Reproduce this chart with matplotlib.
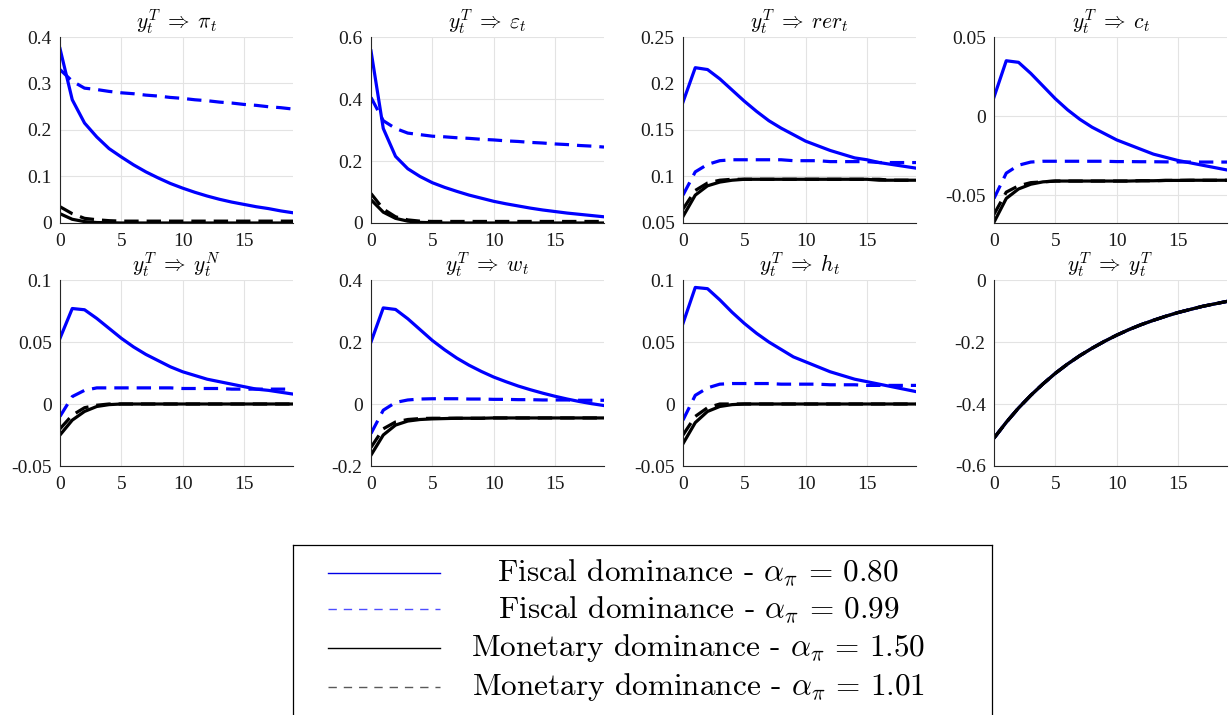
import matplotlib as mpl
import matplotlib.pyplot as plt
import numpy as np
from matplotlib.ticker import FuncFormatter

mpl.rcParams['font.family'] = ['Liberation Serif', 'DejaVu Serif']
mpl.rcParams['mathtext.fontset'] = 'cm'
mpl.rcParams['axes.unicode_minus'] = False

# horizon
t = np.arange(20)

titles = [r'$y_t^T\;\Rightarrow\;\pi_t$', r'$y_t^T\;\Rightarrow\;\varepsilon_t$',
          r'$y_t^T\;\Rightarrow\;rer_t$', r'$y_t^T\;\Rightarrow\;c_t$',
          r'$y_t^T\;\Rightarrow\;y_t^N$', r'$y_t^T\;\Rightarrow\;w_t$',
          r'$y_t^T\;\Rightarrow\;h_t$', r'$y_t^T\;\Rightarrow\;y_t^T$']

labels = [r'Fiscal dominance - $\alpha_\pi\,=\,0.80$',
          r'Fiscal dominance - $\alpha_\pi\,=\,0.99$',
          r'Monetary dominance - $\alpha_\pi\,=\,1.50$',
          r'Monetary dominance - $\alpha_\pi\,=\,1.01$']

# impulse responses: fiscal 0.80, fiscal 0.99, monetary 1.50, monetary 1.01
pi_fd080 = [0.375, 0.265, 0.215, 0.185, 0.16, 0.142, 0.125, 0.11, 0.097, 0.085,
            0.075, 0.066, 0.058, 0.051, 0.045, 0.04, 0.035, 0.031, 0.026, 0.022]
pi_fd099 = [0.33, 0.305, 0.29, 0.287, 0.283, 0.28, 0.278, 0.275, 0.273, 0.27,
            0.268, 0.265, 0.263, 0.26, 0.258, 0.255, 0.253, 0.25, 0.248, 0.245]
pi_md150 = [0.02, 0.008, 0.003, 0.001, 0.0005, 0, 0, 0, 0, 0,
            0, 0, 0, 0, 0, 0, 0, 0, 0, 0]
pi_md101 = [0.035, 0.02, 0.01, 0.007, 0.005, 0.004, 0.004, 0.004, 0.004, 0.004,
            0.004, 0.004, 0.004, 0.004, 0.004, 0.004, 0.004, 0.004, 0.004, 0.004]

eps_fd080 = [0.555, 0.305, 0.215, 0.175, 0.15, 0.13, 0.115, 0.102, 0.09, 0.08,
             0.07, 0.062, 0.055, 0.048, 0.042, 0.037, 0.032, 0.028, 0.024, 0.02]
eps_fd099 = [0.405, 0.33, 0.305, 0.29, 0.285, 0.28, 0.278, 0.275, 0.273, 0.27,
             0.268, 0.265, 0.263, 0.26, 0.258, 0.255, 0.253, 0.25, 0.248, 0.245]
eps_md150 = [0.075, 0.035, 0.015, 0.006, 0.002, 0.001, 0, 0, 0, 0,
             0, 0, 0, 0, 0, 0, 0, 0, 0, 0]
eps_md101 = [0.095, 0.045, 0.02, 0.01, 0.006, 0.005, 0.005, 0.005, 0.005, 0.005,
             0.005, 0.005, 0.005, 0.005, 0.005, 0.005, 0.005, 0.005, 0.005, 0.005]

rer_fd080 = [0.18, 0.217, 0.215, 0.205, 0.193, 0.181, 0.17, 0.16, 0.152, 0.145,
             0.138, 0.133, 0.128, 0.124, 0.12, 0.118, 0.115, 0.113, 0.111, 0.109]
rer_fd099 = [0.08, 0.105, 0.113, 0.117, 0.118, 0.118, 0.118, 0.118, 0.118, 0.117,
             0.117, 0.117, 0.116, 0.116, 0.116, 0.116, 0.115, 0.115, 0.115, 0.115]
rer_md150 = [0.057, 0.08, 0.09, 0.094, 0.096, 0.097, 0.097, 0.097, 0.097, 0.097,
             0.097, 0.097, 0.097, 0.097, 0.097, 0.097, 0.096, 0.096, 0.096, 0.096]
rer_md101 = [0.065, 0.085, 0.093, 0.096, 0.097, 0.097, 0.097, 0.097, 0.097, 0.097,
             0.097, 0.097, 0.097, 0.097, 0.097, 0.097, 0.097, 0.096, 0.096, 0.096]

c_fd080 = [0.012, 0.035, 0.034, 0.027, 0.019, 0.011, 0.004, -0.002, -0.007, -0.011,
           -0.015, -0.018, -0.021, -0.024, -0.026, -0.028, -0.0295, -0.031, -0.0325, -0.034]
c_fd099 = [-0.052, -0.036, -0.031, -0.029, -0.0285, -0.0285, -0.0285, -0.0285, -0.0285, -0.0285,
           -0.0287, -0.0287, -0.0288, -0.0288, -0.0289, -0.0289, -0.029, -0.029, -0.029, -0.029]
c_md150 = [-0.067, -0.052, -0.046, -0.043, -0.0415, -0.041, -0.041, -0.041, -0.041, -0.041,
           -0.041, -0.041, -0.0408, -0.0408, -0.0406, -0.0406, -0.0405, -0.0405, -0.0405, -0.0405]
c_md101 = [-0.062, -0.048, -0.044, -0.042, -0.0415, -0.041, -0.041, -0.041, -0.041, -0.041,
           -0.041, -0.041, -0.0408, -0.0408, -0.0406, -0.0406, -0.0405, -0.0405, -0.0405, -0.0405]

yn_fd080 = [0.053, 0.077, 0.076, 0.069, 0.061, 0.053, 0.046, 0.04, 0.035, 0.03,
            0.026, 0.023, 0.02, 0.018, 0.016, 0.014, 0.012, 0.011, 0.0095, 0.008]
yn_fd099 = [-0.01, 0.006, 0.011, 0.013, 0.013, 0.013, 0.013, 0.013, 0.013, 0.013,
            0.0125, 0.0125, 0.0125, 0.0125, 0.012, 0.012, 0.012, 0.012, 0.012, 0.012]
yn_md150 = [-0.025, -0.013, -0.006, -0.002, -0.0005, 0, 0, 0, 0, 0,
            0, 0, 0, 0, 0, 0, 0, 0, 0, 0]
yn_md101 = [-0.02, -0.009, -0.003, -0.001, 0, 0, 0, 0, 0, 0,
            0, 0, 0, 0, 0, 0, 0, 0, 0, 0]

w_fd080 = [0.2, 0.31, 0.305, 0.275, 0.24, 0.205, 0.175, 0.148, 0.125, 0.105,
           0.087, 0.072, 0.058, 0.046, 0.035, 0.025, 0.016, 0.008, 0.001, -0.005]
w_fd099 = [-0.095, -0.02, 0.005, 0.013, 0.016, 0.017, 0.017, 0.017, 0.016, 0.016,
           0.015, 0.015, 0.014, 0.014, 0.013, 0.013, 0.013, 0.012, 0.012, 0.012]
w_md150 = [-0.165, -0.1, -0.068, -0.055, -0.05, -0.048, -0.047, -0.046, -0.046, -0.046,
           -0.045, -0.045, -0.045, -0.045, -0.045, -0.045, -0.045, -0.045, -0.045, -0.045]
w_md101 = [-0.14, -0.08, -0.058, -0.05, -0.047, -0.046, -0.046, -0.046, -0.046, -0.046,
           -0.045, -0.045, -0.045, -0.045, -0.045, -0.045, -0.045, -0.045, -0.045, -0.045]

h_fd080 = [0.065, 0.094, 0.093, 0.084, 0.074, 0.065, 0.057, 0.05, 0.044, 0.038,
           0.034, 0.03, 0.026, 0.023, 0.02, 0.018, 0.016, 0.014, 0.012, 0.01]
h_fd099 = [-0.013, 0.007, 0.013, 0.016, 0.0165, 0.0165, 0.0165, 0.0165, 0.016, 0.016,
           0.016, 0.016, 0.0155, 0.0155, 0.0155, 0.015, 0.015, 0.015, 0.015, 0.015]
h_md150 = [-0.032, -0.015, -0.006, -0.002, -0.0005, 0, 0, 0, 0, 0,
           0, 0, 0, 0, 0, 0, 0, 0, 0, 0]
h_md101 = [-0.025, -0.01, -0.003, 0, 0, 0, 0, 0, 0, 0,
           0, 0, 0, 0, 0, 0, 0, 0, 0, 0]

yt_all = [-0.51, -0.459, -0.413, -0.372, -0.335, -0.301, -0.271, -0.244, -0.22, -0.198,
          -0.178, -0.16, -0.144, -0.13, -0.117, -0.105, -0.095, -0.085, -0.077, -0.069]

panels = [
    [pi_fd080, pi_fd099, pi_md150, pi_md101],
    [eps_fd080, eps_fd099, eps_md150, eps_md101],
    [rer_fd080, rer_fd099, rer_md150, rer_md101],
    [c_fd080, c_fd099, c_md150, c_md101],
    [yn_fd080, yn_fd099, yn_md150, yn_md101],
    [w_fd080, w_fd099, w_md150, w_md101],
    [h_fd080, h_fd099, h_md150, h_md101],
    [yt_all, yt_all, yt_all, yt_all],
]

ylims = [(0, 0.4), (0, 0.6), (0.05, 0.25), (-0.0675, 0.05),
         (-0.05, 0.1), (-0.2, 0.4), (-0.05, 0.1), (-0.6, 0)]
yticks = [[0, 0.1, 0.2, 0.3, 0.4], [0, 0.2, 0.4, 0.6], [0.05, 0.1, 0.15, 0.2, 0.25],
          [-0.05, 0, 0.05], [-0.05, 0, 0.05, 0.1], [-0.2, 0, 0.2, 0.4],
          [-0.05, 0, 0.05, 0.1], [-0.6, -0.4, -0.2, 0]]

styles = [dict(color=(0, 0, 1), ls='-'), dict(color=(0, 0, 1), ls=(0, (4.5, 2.5))),
          dict(color='k', ls='-'), dict(color='k', ls=(0, (4.5, 2.5)))]

fig = plt.figure(figsize=(12.3, 7.15), dpi=100)

lefts = [60, 371, 683, 994]
tops = [37, 280]
W, H = 233, 186

for i, series in enumerate(panels):
    r, c = divmod(i, 4)
    ax = fig.add_axes([lefts[c] / 1230, 1 - (tops[r] + H) / 715, W / 1230, H / 715])
    for s, st in zip(series, styles):
        ax.plot(t, s, lw=2.3, **st)
    ax.set_xlim(0, 19)
    ax.set_ylim(*ylims[i])
    ax.set_xticks([0, 5, 10, 15])
    ax.set_yticks(yticks[i])
    ax.yaxis.set_major_formatter(FuncFormatter(lambda v, p: '%g' % v))
    ax.grid(True, color='#e3e3e3', lw=0.8)
    ax.set_axisbelow(True)
    for sp in ['top', 'right']:
        ax.spines[sp].set_visible(False)
    for sp in ['left', 'bottom']:
        ax.spines[sp].set_color('#262626')
        ax.spines[sp].set_linewidth(0.8)
    ax.tick_params(direction='in', length=0, labelsize=14, colors='#262626',
                   labelcolor='#1a1a1a')
    ax.tick_params(axis='y', pad=6)
    ax.tick_params(axis='x', pad=7)
    ax.set_title(titles[i], fontsize=15.5, pad=4)

# legend box
lax = fig.add_axes([293 / 1230, -0.01, 699 / 1230, (715 - 545) / 715 + 0.01])
lax.set_xlim(0, 1)
lax.set_ylim(0, 1)
lax.set_xticks([])
lax.set_yticks([])
for sp in lax.spines.values():
    sp.set_linewidth(0.9)
    sp.set_color('k')
leg_styles = [dict(color=(0, 0, 0.9), ls='-'), dict(color=(0.3, 0.3, 1), ls=(0, (6, 5))),
              dict(color='k', ls='-'), dict(color='0.35', ls=(0, (6, 5)))]
rows = [573, 609, 648, 687]
for lab, st, yr in zip(labels, leg_styles, rows):
    yy = 1 - (yr - 545) / (715 - 545 + 7)
    lax.plot([0.05, 0.21], [yy, yy], lw=1.0, **st)
    lax.text(0.58, yy, lab, ha='center', va='center', fontsize=22.5, family='cmr10')

fig.savefig('out.png', dpi=100)
